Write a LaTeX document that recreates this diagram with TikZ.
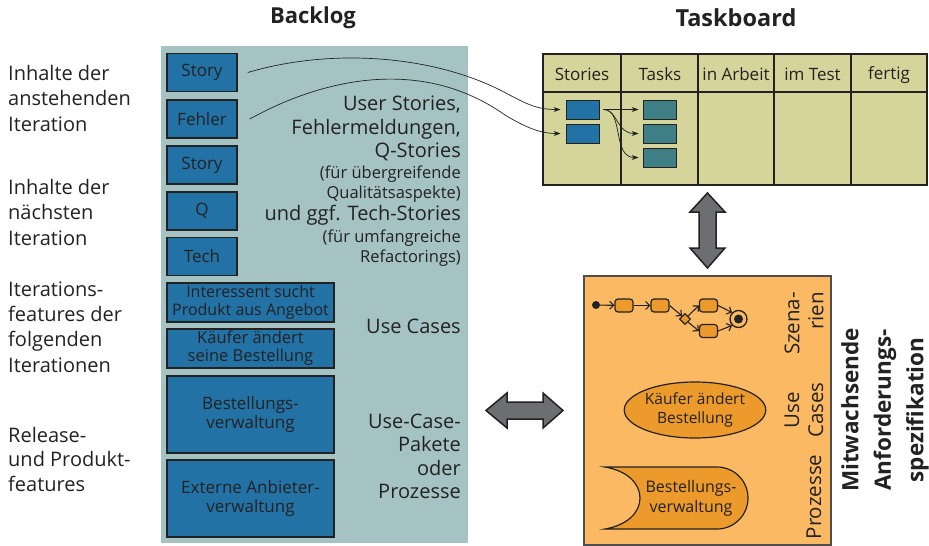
\documentclass[tikz,border=0pt]{standalone}
\usepackage{fontspec}
\setmainfont{Open Sans}
\usetikzlibrary{arrows.meta,shapes.geometric}

\definecolor{panelgray}{HTML}{A6C3C3}
\definecolor{itemblue}{HTML}{2272A6}
\definecolor{taskteal}{HTML}{3E7E85}
\definecolor{boardkhaki}{HTML}{D4D49B}
\definecolor{speclight}{HTML}{FBB963}
\definecolor{specdark}{HTML}{EC9A2B}
\definecolor{arrowgray}{HTML}{6D6E71}
\definecolor{ink}{HTML}{222222}

\newcommand\setfs[2]{\fontsize{#1}{#2}\selectfont}

\tikzset{
  heading/.style={font=\bfseries\setfs{22}{26}, text=ink},
  sidelabel/.style={anchor=west, align=left, font=\setfs{20}{25.5}, text=ink, inner sep=0pt},
  bigline/.style={anchor=base east, font=\setfs{20}{24}, text=ink, inner sep=0pt},
  smallline/.style={anchor=base east, font=\setfs{16.5}{20}, text=ink, inner sep=0pt},
  itembox/.style={draw=ink, line width=1.6pt, fill=itemblue, text=ink,
    font=\setfs{17}{18.5}, align=center, inner sep=0pt},
  card/.style={draw=ink, line width=0.8pt, fill=#1, minimum width=33pt,
    minimum height=19pt, inner sep=0pt},
  colhead/.style={font=\setfs{17}{20}, text=ink, inner sep=0pt},
  flow/.style={-{Stealth[length=7pt,width=5pt]}, line width=0.7pt, ink},
  activity/.style={draw=ink, line width=1.2pt, fill=specdark, rounded corners=3pt,
    minimum width=18pt, minimum height=13pt, inner sep=0pt},
  step arrow/.style={-{Straight Barb[length=4pt,width=8pt]}, line width=1.1pt, ink},
  sidetext/.style={rotate=90, font=\setfs{20.5}{24}, text=ink, inner sep=0pt},
  bigarrow/.style={fill=arrowgray, draw=ink, line width=1.5pt, line join=miter}
}

\begin{document}
\begin{tikzpicture}[x=1pt,y=-1pt]
\useasboundingbox (0,0) rectangle (929,546);

% headings
\node[heading] (hback) at (313,18) {Backlog};
\node[heading, font=\bfseries\setfs{23.5}{26}] (htask) at (736,18) {Taskboard};

% row labels on the left
\node[sidelabel] (l1) at (8,98)  {Inhalte der\\anstehenden\\Iteration};
\node[sidelabel] (l2) at (8,212) {Inhalte der\\nächsten\\Iteration};
\node[sidelabel, font=\setfs{20}{25.3}] (l3) at (8,327) {Iterations-\\features der\\folgenden\\Iterationen};
\node[sidelabel, font=\setfs{20}{24.5}] (l4) at (8,459) {Release-\\und Produkt-\\features};

% backlog panel
\fill[panelgray] (161,46) rectangle (468,543);

% backlog items
\node[itembox, minimum width=70pt, minimum height=38pt] (s1) at (202,72.5) {Story};
\node[itembox, minimum width=70pt, minimum height=38pt] (f1) at (202,119)  {Fehler};
\node[itembox, minimum width=70pt, minimum height=38pt] (s2) at (202,165)  {Story};
\node[itembox, minimum width=70pt, minimum height=38pt] (q1) at (202,211)  {Q};
\node[itembox, minimum width=70pt, minimum height=38pt] (t1) at (202,256.5) {Tech};
\node[itembox, minimum width=167pt, minimum height=39pt, font=\setfs{16}{18}] (u1) at (250.5,302.5) {Interessent sucht\\Produkt aus Angebot};
\node[itembox, minimum width=167pt, minimum height=39pt, font=\setfs{16.5}{18}] (u2) at (250.5,348.5) {Käufer ändert\\seine Bestellung};
\node[itembox, minimum width=167pt, minimum height=77pt] (p1) at (250.5,414.5) {Bestellungs-\\verwaltung};
\node[itembox, minimum width=167pt, minimum height=77pt] (p2) at (250.5,498.5) {Externe Anbieter-\\verwaltung};

% backlog descriptions
\node[bigline]   (d1) at (461,110) {User Stories,};
\node[bigline]   (d2) at (461,134) {Fehlermeldungen,};
\node[bigline]   (d3) at (461,157) {Q-Stories};
\node[smallline] (d4) at (461,178) {(für übergreifende};
\node[smallline] (d5) at (461,198) {Qualitätsaspekte)};
\node[bigline]   (d6) at (461,220) {und ggf. Tech-Stories};
\node[smallline] (d7) at (461,242) {(für umfangreiche};
\node[smallline] (d8) at (461,262) {Refactorings)};
\node[bigline]   (d9) at (461,333) {Use Cases};
\node[bigline]   (d10) at (461,428) {Use-Case-};
\node[bigline]   (d11) at (461,451) {Pakete};
\node[bigline]   (d12) at (461,475) {oder};
\node[bigline]   (d13) at (461,498) {Prozesse};

% taskboard
\draw[fill=boardkhaki, draw=ink, line width=2.4pt] (543,54) rectangle (927,185);
\draw[ink, line width=1.8pt] (543,92) -- (927,92);
\foreach \cx in {621,698,774,851}
  \draw[ink, line width=1.8pt] (\cx,54) -- (\cx,185);
\node[colhead] (h1) at (582,74)   {Stories};
\node[colhead] (h2) at (660,74)   {Tasks};
\node[colhead] (h3) at (736,74)   {in Arbeit};
\node[colhead] (h4) at (812.5,74) {im Test};
\node[colhead] (h5) at (889,75)   {fertig};

\node[card=itemblue] (c1) at (582.5,109.5) {};
\node[card=itemblue] (c2) at (582.5,133.5) {};
\node[card=taskteal] (k1) at (659.5,109.5) {};
\node[card=taskteal] (k2) at (659.5,133.5) {};
\node[card=taskteal] (k3) at (659.5,157.5) {};

% items pulled from the backlog onto the board
\draw[flow] ([xshift=10pt]s1.east) .. controls (330,48) and (430,55) .. (500,90)
  .. controls (525,103) and (535,109.5) .. ([xshift=-5pt]c1.west);
\draw[flow] ([xshift=12pt]f1.east) .. controls (320,80) and (420,55) .. (505,115)
  .. controls (525,127) and (540,133.5) .. ([xshift=-5pt]c2.west);

% story split into tasks
\coordinate (cs) at ([xshift=4pt]c1.east);
\draw[flow] (cs) -- ([xshift=-4pt]k1.west);
\draw[flow] (cs) .. controls (618,109.5) and (616,133.5) .. ([xshift=-4pt]k2.west);
\draw[flow] (cs) .. controls (624,109.5) and (612,157.5) .. ([xshift=-4pt]k3.west);

% double arrows
\draw[bigarrow] (707.5,193) -- (725,212) -- (716,212) -- (716,248) -- (725,248)
  -- (707.5,268) -- (690,248) -- (699,248) -- (699,212) -- (690,212) -- cycle;
\draw[bigarrow] (486,410.5) -- (507,393) -- (507,402) -- (543,402) -- (543,393)
  -- (563,410.5) -- (543,428) -- (543,419) -- (507,419) -- (507,428) -- cycle;

% growing requirements specification
\draw[fill=speclight, draw=ink!80, line width=1.5pt] (584,276) rectangle (831,545);

% scenario
\node[circle, fill=ink, minimum size=8pt, inner sep=0pt] (ini) at (596,305) {};
\node[activity] (a1) at (624,305.5) {};
\node[activity] (a2) at (660,305.5) {};
\node[diamond, draw=ink, line width=1.1pt, fill=specdark, minimum width=11pt,
  minimum height=11pt, inner sep=0pt] (dec) at (685,319) {};
\node[activity] (a3) at (708.5,305.5) {};
\node[activity] (a4) at (708.5,331) {};
\node[circle, draw=ink, line width=1.3pt, fill=speclight, minimum size=17pt,
  inner sep=0pt] (fin) at (738.5,319) {};
\fill[ink] (fin.center) circle (4.5);
\draw[step arrow] (ini) -- (a1);
\draw[step arrow] (a1) -- (a2);
\draw[step arrow] (a2.east) -- (dec.north west);
\draw[step arrow] (dec.north east) -- (a3.west);
\draw[step arrow] (dec.south east) -- (a4.west);
\draw[step arrow] (a3.east) -- (fin.north west);
\draw[step arrow] (a4.east) -- (fin.south west);

% use case
\node[ellipse, draw=ink, line width=1.2pt, fill=specdark, minimum width=100pt,
  minimum height=56pt, inner sep=0pt, align=center, font=\setfs{15.5}{19}, text=ink]
  (uc) at (695,410) {Käufer ändert\\Bestellung};

% process: concave left side, round right end
\draw[draw=ink, line width=1.2pt, fill=specdark]
  (605,467) -- (717,467) arc[start angle=-90, end angle=90, radius=31]
  -- (605,529) .. controls (628,525) and (640,512) .. (640,498)
  .. controls (640,484) and (628,471) .. cycle;
\node[align=center, font=\setfs{16}{20}, text=ink, inner sep=0pt] (pr) at (691,498)
  {Bestellungs-\\verwaltung};

% side captions of the specification
\node[sidetext, align=right] (sz) at (804,323.5) {Szena-\\rien};
\node[sidetext, align=center] (us) at (804,410) {Use\\Cases};
\node[sidetext] (pz) at (814,497) {Prozesse};

\node[rotate=90, align=center, font=\bfseries\setfs{22.5}{32.5}, text=ink, inner sep=0pt]
  (spec) at (885,410) {Mitwachsende\\Anforderungs-\\spezifikation};
\end{tikzpicture}
\end{document}
